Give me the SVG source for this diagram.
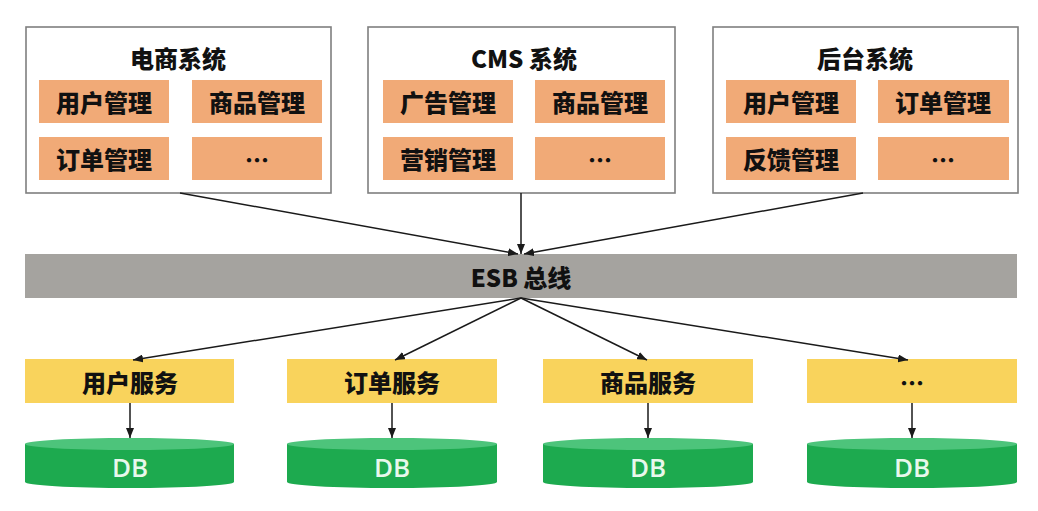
<svg xmlns="http://www.w3.org/2000/svg" width="1038" height="511" viewBox="0 0 1038 511">
<style>
.sys{fill:#fff;stroke:#7f7f7f;stroke-width:1.6}
.mod{fill:#F1AA77}
.svc{fill:#F9D35C}
.t{font-family:"Noto Sans CJK SC","Noto Sans",sans-serif;font-weight:900;font-size:24px;fill:#111;text-anchor:middle;dominant-baseline:central}
.db-body{fill:#1DAA4F}
.db-top{fill:#4DC47B}
.dbt{font-family:"Open Sans","Noto Sans",sans-serif;font-weight:600;font-size:26px;fill:#E8F8EC;text-anchor:middle;dominant-baseline:central}
.c{stroke:#1a1a1a;stroke-width:1.5;fill:none;marker-end:url(#ah)}
</style>
<defs>
<marker id="ah" markerWidth="10" markerHeight="8" refX="10" refY="4" orient="auto" markerUnits="userSpaceOnUse">
<path d="M0,0 L10,4 L0,8 Z" fill="#1a1a1a"/>
</marker>
</defs>
<rect width="1038" height="511" fill="#fff"/>

<g id="ecommerce">
<rect class="sys" x="26" y="27" width="305" height="166"/>
<text class="t" x="178" y="57">电商系统</text>
<rect class="mod" x="39" y="80" width="130" height="43"/>
<text class="t" x="104" y="101">用户管理</text>
<rect class="mod" x="192" y="80" width="130" height="43"/>
<text class="t" x="257" y="101">商品管理</text>
<rect class="mod" x="39" y="137" width="130" height="43"/>
<text class="t" x="104" y="158">订单管理</text>
<rect class="mod" x="192" y="137" width="130" height="43"/>
<text class="t" x="257" y="158">…</text>
</g>

<g id="cms">
<rect class="sys" x="368" y="27" width="307" height="166"/>
<text class="t" x="524" y="57">CMS 系统</text>
<rect class="mod" x="383" y="80" width="130" height="43"/>
<text class="t" x="448" y="101">广告管理</text>
<rect class="mod" x="535" y="80" width="130" height="43"/>
<text class="t" x="600" y="101">商品管理</text>
<rect class="mod" x="383" y="137" width="130" height="43"/>
<text class="t" x="448" y="158">营销管理</text>
<rect class="mod" x="535" y="137" width="130" height="43"/>
<text class="t" x="600" y="158">…</text>
</g>

<g id="backend">
<rect class="sys" x="713" y="27" width="305" height="166"/>
<text class="t" x="865" y="57">后台系统</text>
<rect class="mod" x="726" y="80" width="130" height="43"/>
<text class="t" x="791" y="101">用户管理</text>
<rect class="mod" x="878" y="80" width="131" height="43"/>
<text class="t" x="943" y="101">订单管理</text>
<rect class="mod" x="726" y="137" width="130" height="43"/>
<text class="t" x="791" y="158">反馈管理</text>
<rect class="mod" x="878" y="137" width="131" height="43"/>
<text class="t" x="943" y="158">…</text>
</g>

<g id="esb">
<rect x="25" y="254" width="992" height="44" fill="#A5A39F"/>
<text class="t" x="521" y="276">ESB 总线</text>
</g>

<g id="svc-user">
<rect class="svc" x="25" y="359" width="209" height="44"/>
<text class="t" x="130" y="381">用户服务</text>
</g>
<g id="svc-order">
<rect class="svc" x="287" y="359" width="210" height="44"/>
<text class="t" x="392" y="381">订单服务</text>
</g>
<g id="svc-product">
<rect class="svc" x="543" y="359" width="210" height="44"/>
<text class="t" x="648" y="381">商品服务</text>
</g>
<g id="svc-more">
<rect class="svc" x="807" y="359" width="210" height="44"/>
<text class="t" x="912" y="381">…</text>
</g>

<g id="db1">
<path class="db-body" d="M25,444 L25,482 A104.5,6 0 0 0 234,482 L234,444 Z"/>
<ellipse class="db-top" cx="129.5" cy="444" rx="104.5" ry="6"/>
<text class="dbt" x="130" y="467">DB</text>
</g>
<g id="db2">
<path class="db-body" d="M287,444 L287,482 A105,6 0 0 0 497,482 L497,444 Z"/>
<ellipse class="db-top" cx="392" cy="444" rx="105" ry="6"/>
<text class="dbt" x="392" y="467">DB</text>
</g>
<g id="db3">
<path class="db-body" d="M543,444 L543,482 A105,6 0 0 0 753,482 L753,444 Z"/>
<ellipse class="db-top" cx="648" cy="444" rx="105" ry="6"/>
<text class="dbt" x="648" y="467">DB</text>
</g>
<g id="db4">
<path class="db-body" d="M807,444 L807,482 A105,6 0 0 0 1017,482 L1017,444 Z"/>
<ellipse class="db-top" cx="912" cy="444" rx="105" ry="6"/>
<text class="dbt" x="912" y="467">DB</text>
</g>

<g id="connectors">
<line class="c" x1="180" y1="193" x2="518" y2="254"/>
<line class="c" x1="521" y1="193" x2="521" y2="254"/>
<line class="c" x1="863" y1="193" x2="524" y2="254"/>
<line class="c" x1="521" y1="298" x2="133" y2="360"/>
<line class="c" x1="521" y1="298" x2="395" y2="360"/>
<line class="c" x1="521" y1="298" x2="647" y2="360"/>
<line class="c" x1="521" y1="298" x2="908" y2="360"/>
<line class="c" x1="130" y1="403" x2="130" y2="438"/>
<line class="c" x1="392" y1="403" x2="392" y2="438"/>
<line class="c" x1="648" y1="403" x2="648" y2="438"/>
<line class="c" x1="912" y1="403" x2="912" y2="438"/>
</g>
</svg>
